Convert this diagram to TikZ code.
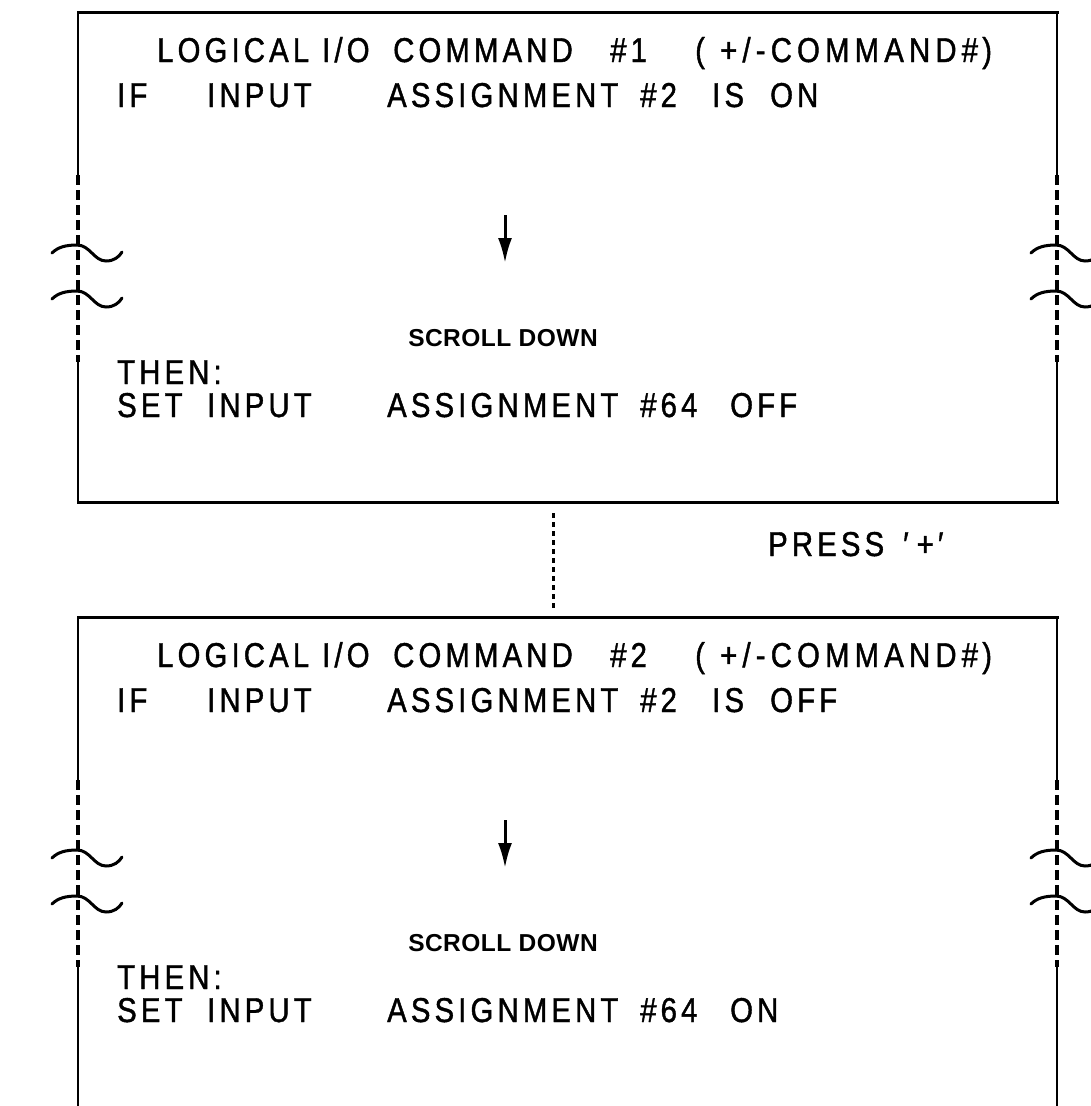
\documentclass[tikz,border=0pt]{standalone}
\usepackage{fontspec}
\setmainfont{Liberation Sans}
\newfontfamily\cadfont[LetterSpace=12,FakeStretch=0.85,FakeBold=1.2]{Liberation Sans}
\newfontfamily\cadwide[LetterSpace=15,FakeStretch=0.85,FakeBold=1.2]{Liberation Sans}
\newfontfamily\cadbold[LetterSpace=2]{Liberation Sans Bold}
\usetikzlibrary{arrows.meta}
\begin{document}
\begin{tikzpicture}[x=1pt,y=-1pt,
  txt/.style={font=\cadfont\fontsize{34.5}{34.5}\selectfont, anchor=base west, inner sep=0pt},
  txtw/.style={font=\cadwide\fontsize{34.5}{34.5}\selectfont, anchor=base west, inner sep=0pt},
  scr/.style={font=\cadbold\fontsize{24.5}{24.5}\selectfont, anchor=base, inner sep=0pt},
  hedge/.style={line width=3pt, line cap=rect},
  vside/.style={line width=2pt},
  brkline/.style={line width=4pt, dash pattern=on 10pt off 5pt},
  tilde/.style={line width=3pt, line cap=round},
  conn/.style={line width=3pt, dash pattern=on 5pt off 4pt},
  downarrow/.style={line width=3pt, -{Latex[length=25pt,width=14pt]}}]
\useasboundingbox (0,0) rectangle (1091,1106);

% ---------- box 1 ----------
\coordinate (b1tl) at (78,12);
\coordinate (b1tr) at (1057,12);
\coordinate (b1bl) at (78,502);
\coordinate (b1br) at (1057,502);
\draw[hedge] (b1tl) -- (b1tr);
\draw[hedge] (b1bl) -- (b1br);
\foreach \sx in {78, 1057}{
  \draw[vside] (\sx,12) -- (\sx,175);
  \draw[brkline] (\sx,175) -- (\sx,362);
  \draw[vside] (\sx,362) -- (\sx,502);
  \foreach \ty in {253,299}{
    \draw[tilde] (\sx-26,\ty) .. controls (\sx-20,\ty-6) and (\sx-12,\ty-8) .. (\sx-1,\ty-8)
       .. controls (\sx+12,\ty-8) and (\sx+16,\ty+8) .. (\sx+28,\ty+8)
       .. controls (\sx+36,\ty+8) and (\sx+41,\ty+4) .. (\sx+44,\ty-1);
  }
}
\node[txt] (t1a) at (157,62) {LOGICAL};
\node[txt] (t1b) at (322,62) {I/O};
\node[txt] (t1c) at (393,62) {COMMAND};
\node[txt] (t1d) at (610,62) {\#1};
\node[txt] (t1e) at (695,62) {(};
\node[txtw] (t1f) at (720,62) {+/-COMMAND\#};
\node[txt] (t1g) at (982,62) {)};
\node[txt] (t2a) at (117,107) {IF};
\node[txt] (t2b) at (207,107) {INPUT};
\node[txt] (t2c) at (387,107) {ASSIGNMENT};
\node[txt] (t2d) at (640,107) {\#2};
\node[txt] (t2e) at (712,107) {IS};
\node[txt] (t2f) at (770,107) {ON};
\coordinate (a1s) at (505,215);
\coordinate (a1e) at (505,263);
\draw[downarrow] (a1s) -- (a1e);
\node[scr] (s1) at (503,346) {SCROLL DOWN};
\node[txt] (t3a) at (117,384) {THEN:};
\node[txt] (t4a) at (117,417) {SET};
\node[txt] (t4b) at (207,417) {INPUT};
\node[txt] (t4c) at (387,417) {ASSIGNMENT};
\node[txt] (t4d) at (640,417) {\#64};
\node[txt] (t4e) at (730,417) {OFF};

% ---------- connector ----------
\coordinate (c1) at (553,513);
\coordinate (c2) at (553,609);
\draw[conn] (c1) -- (c2);
\node[txt] (p1) at (768,556) {PRESS};
\node[txt] (p2) at (903,556) {′\hspace{8pt}+′};

% ---------- box 2 ----------
\begin{scope}[yshift=-605pt]
\coordinate (b2tl) at (78,12);
\coordinate (b2tr) at (1057,12);
\draw[hedge] (b2tl) -- (b2tr);
\foreach \sx in {78, 1057}{
  \draw[vside] (\sx,12) -- (\sx,175);
  \draw[brkline] (\sx,175) -- (\sx,362);
  \draw[vside] (\sx,362) -- (\sx,520);
  \foreach \ty in {253,299}{
    \draw[tilde] (\sx-26,\ty) .. controls (\sx-20,\ty-6) and (\sx-12,\ty-8) .. (\sx-1,\ty-8)
       .. controls (\sx+12,\ty-8) and (\sx+16,\ty+8) .. (\sx+28,\ty+8)
       .. controls (\sx+36,\ty+8) and (\sx+41,\ty+4) .. (\sx+44,\ty-1);
  }
}
\node[txt] (u1a) at (157,62) {LOGICAL};
\node[txt] (u1b) at (322,62) {I/O};
\node[txt] (u1c) at (393,62) {COMMAND};
\node[txt] (u1d) at (610,62) {\#2};
\node[txt] (u1e) at (695,62) {(};
\node[txtw] (u1f) at (720,62) {+/-COMMAND\#};
\node[txt] (u1g) at (982,62) {)};
\node[txt] (u2a) at (117,107) {IF};
\node[txt] (u2b) at (207,107) {INPUT};
\node[txt] (u2c) at (387,107) {ASSIGNMENT};
\node[txt] (u2d) at (640,107) {\#2};
\node[txt] (u2e) at (712,107) {IS};
\node[txt] (u2f) at (770,107) {OFF};
\coordinate (a2s) at (505,215);
\coordinate (a2e) at (505,263);
\draw[downarrow] (a2s) -- (a2e);
\node[scr] (s2) at (503,346) {SCROLL DOWN};
\node[txt] (u3a) at (117,384) {THEN:};
\node[txt] (u4a) at (117,417) {SET};
\node[txt] (u4b) at (207,417) {INPUT};
\node[txt] (u4c) at (387,417) {ASSIGNMENT};
\node[txt] (u4d) at (640,417) {\#64};
\node[txt] (u4e) at (730,417) {ON};
\end{scope}
\end{tikzpicture}
\end{document}
